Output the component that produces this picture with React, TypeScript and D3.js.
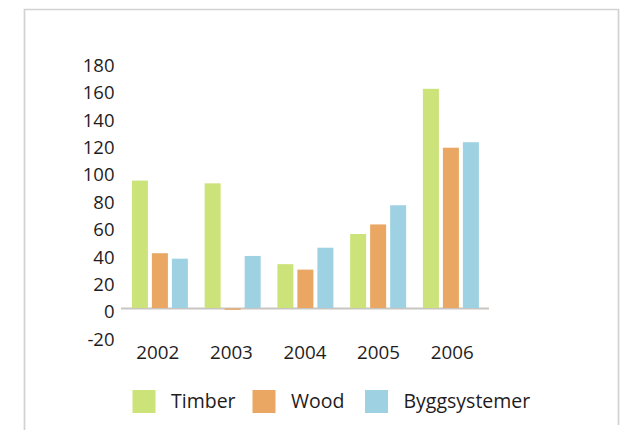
import { useMemo } from 'react'
import * as d3 from 'd3'

const years = ['2002', '2003', '2004', '2005', '2006']
const seriesNames = ['Timber', 'Wood', 'Byggsystemer']
const timber = [93, 91, 32, 54, 160]
const wood = [40, -1, 28, 61, 117]
const bygg = [36, 38, 44, 75, 121]
const yTicks = [-20, 0, 20, 40, 60, 80, 100, 120, 140, 160, 180]

const colors = ['#cce37a', '#e9a763', '#9ed2e2']
const FONT = '"Open Sans", "Noto Sans", sans-serif'

export default function App() {
  const width = 637
  const height = 430

  const { x, xBars, inner, y } = useMemo(() => {
    const x = d3.scaleBand<string>().domain(years).range([121, 489]).padding(0)
    // bar groups sit on a slightly tighter pitch than the labels
    const xBars = d3.scaleBand<string>().domain(years).range([121.5, 121.5 + 5 * 72.75]).padding(0)
    const inner = d3.scaleBand<string>().domain(seriesNames).range([10.4, 70.4]).padding(0)
    // 20 units = 27.4 px, zero at 308
    const y = d3.scaleLinear().domain([0, 180]).range([308, 308 - 9 * 27.4])
    return { x, xBars, inner, y }
  }, [])

  const values = [timber, wood, bygg]
  const barW = inner.step() - 4

  const legendX = [132.5, 252.5, 365]

  return (
    <svg
      width={width}
      height={height}
      viewBox={`0 0 ${width} ${height}`}
      style={{ position: 'absolute', left: 0, top: 0, background: '#fff' }}
      fontFamily={FONT}
    >
      {/* frame */}
      <path d="M24.5,430 L24.5,9.5 L618.5,9.5 L618.5,425" fill="none" stroke="#d2d2d2" strokeWidth={1.7} />

      {/* y tick labels */}
      {yTicks.map((t) => (
        <text key={t} x={114.5} y={y(t) + 10.4} textAnchor="end" fontSize={18.5} fill="#1f1c1d">
          {t}
        </text>
      ))}

      {/* zero axis line */}
      <line x1={x.range()[0]} x2={x.range()[1]} y1={y(0) + 0.5} y2={y(0) + 0.5} stroke="#c9c5c2" strokeWidth={2} />

      {/* bars */}
      {years.map((yr, i) => (
        <g key={yr} transform={`translate(${xBars(yr)},0)`}>
          {seriesNames.map((s, j) => {
            const v = values[j][i]
            const top = Math.min(y(v), y(0))
            const h = Math.max(Math.abs(y(v) - y(0)), 1)
            return (
              <rect
                key={s}
                x={inner(s)}
                y={v >= 0 ? top : y(0) + 0.5}
                width={barW}
                height={h}
                fill={colors[j]}
              />
            )
          })}
        </g>
      ))}

      {/* year labels */}
      {years.map((yr) => (
        <text
          key={yr}
          x={(x(yr) ?? 0) + x.bandwidth() / 2}
          y={359.3}
          textAnchor="middle"
          fontSize={18.8}
          fill="#1f1c1d"
        >
          {yr}
        </text>
      ))}

      {/* legend */}
      {seriesNames.map((s, j) => (
        <g key={s}>
          <rect x={legendX[j]} y={390} width={23} height={23} fill={colors[j]} />
          <text x={legendX[j] + 38.5} y={408} fontSize={19.5} fill="#1f1c1d">
            {s}
          </text>
        </g>
      ))}
    </svg>
  )
}
